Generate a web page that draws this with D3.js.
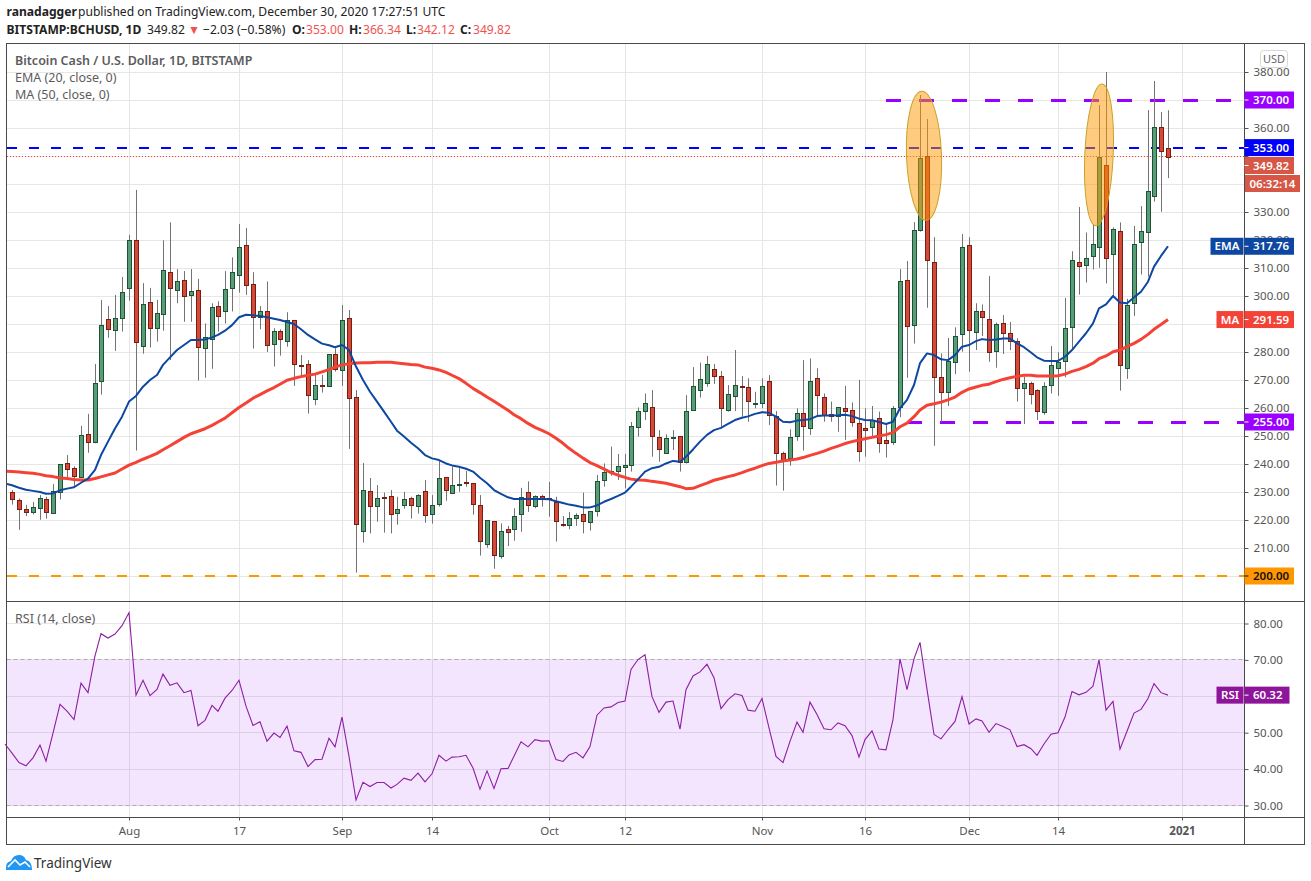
<!DOCTYPE html>
<html>
<head>
<meta charset="utf-8">
<title>BCHUSD</title>
<script src="https://cdn.jsdelivr.net/npm/d3@7"></script>
<style>
    body { margin: 0; background: #fff; }
    text { font-family: "Noto Sans", "Open Sans", sans-serif; }
</style>
</head>
<body>
<div id="chart"></div>
<script>
// Daily candles, first one is 15 Jul 2020, last one 30 Dec 2020
const opens = [229.9,227,223.8,222.7,224.2,227.4,222.4,229.9,240.2,238.5,235.2,250.6,247.6,269.5,291.7,287.7,292,302.7,319.9,282,
    297.7,288.5,293.4,308.5,302,305.6,300.2,302,281.3,284.5,296.3,294.5,302.7,307.4,318.1,304.2,292.4,294.5,282.7,287.4,
    283.8,291.3,275.3,275.6,263.1,268.3,267.7,279.2,273.5,292,263.8,216,230.2,224.9,228.1,228.5,222.4,225.2,227.7,224.9,
    230.2,222,225.6,235.2,229.5,232.7,233.5,233.1,225.2,211.3,219.5,206.9,216.7,216.7,222,229.9,224.9,228.5,228,226.3,
    218.7,218,220.8,222,219,223.1,234,237.3,237.4,238.8,239.5,253.1,258.8,260.2,249.5,243.8,249.5,249.9,240.6,259.2,
    266.3,268.8,273.8,271.3,259.2,264.2,267.7,267.4,261.6,261.7,269.5,257.3,244,242,249.9,258.1,252.7,270.6,263.8,257.7,
    257,259.9,259.2,254.5,252.7,253.1,256.3,248.5,247.6,260.2,305.6,289.5,323.5,350.1,312,270.9,265.8,276.3,286.3,318.1,
    287,294.5,291.7,280.1,290.2,286.7,283.8,267,268.8,266.3,258.3,268.1,274.2,276.7,288.8,312,310.9,314.2,317.7,346.7,
    314.9,323.1,274.2,297.4,319.2,322.7,335.6,360.2,353];
const highs = [230.7,227.7,225.4,226.4,228.9,228.3,232.9,239.9,243.2,239.2,253.6,257.9,275.7,298.6,296.4,300.4,306.8,321.8,337.9,304.6,
    302.9,298.6,319.9,326.3,309.6,308.9,309.6,306.1,290.2,297.4,298.1,308.9,313.8,325.7,324.3,308.5,296.4,305.2,288.5,288.1,
    294.2,291.5,278.9,277.1,271.8,271.8,279.2,281.3,296.8,295,266.4,240.4,235,232.5,229.8,230.7,228.3,230,228.3,229.2,
    234.3,228.9,241.4,235.4,239,238.5,237.5,233.1,228.9,219.9,219.5,218.8,217.9,224.2,231.5,233.8,228.8,229,233.6,228.3,
    221.4,222.9,222.4,229.8,223.1,236.1,240.2,246.2,243.6,243.6,255,260.2,265.2,266.4,252.1,250.6,252.1,250,264.6,274.6,
    276.2,278.6,275.7,273.2,268.2,280.7,271.4,270.6,265.8,270.6,271.8,258.9,244.4,252.4,259.9,277.1,277.7,274.2,265.2,262.3,
    260.2,267.9,262,270,259.9,260.7,258.7,254.5,260.7,309.6,312.5,326.4,371.8,363.2,321,279.5,285,288.8,322.1,321,
    297.4,297,307.1,290.5,293.2,290.7,284.9,271.2,269.4,266.7,269.2,282.1,279.9,299.3,316,331.8,322.7,325.7,368.2,380,
    324.5,326.3,299,325,332.1,366.4,376.8,365.7,366.34];
const lows = [225.5,216.5,221.4,222,220.1,220.5,222.4,227.3,234.3,231.9,234.9,244,247.4,264.8,285.1,280.4,287.3,298.3,244.8,279.4,
    281.6,283.7,287.6,277.1,297.4,290.8,290.8,269.8,270.8,274,287.3,290.2,294.5,301.2,300.4,281.2,288.1,280,274.8,278.7,
    281.9,267.9,271.2,258,261,265.5,267.7,273,267.9,245.4,201.2,211.9,215.2,219.4,215.5,215.2,218.3,224,220.5,222.3,
    219,218.7,224.8,226.9,229.5,230.1,231.9,221.9,207.3,210.1,202.6,206.2,210.7,212.6,215.8,222.9,224.2,224.8,221.2,212.3,
    217.6,216.7,217.9,215.2,216.2,221.2,231.9,235.8,234.3,231.3,237.3,249.8,255.7,242.6,240.8,243.8,245,237.3,240.2,259.2,
    263.7,267.6,268.6,253.3,258.7,258.9,256.9,255.1,259.9,259.9,253.9,232.3,230.5,239.4,248.3,244.8,250.4,257.5,255.1,255.1,
    251.5,248.6,253.3,240.8,242.6,249.8,244,242.3,246.8,256.7,270.8,283,323,295.8,246.5,255.1,260.7,272.1,280.1,273,
    280.7,285.7,276.5,274.4,279.3,280.7,262.3,254.3,261.3,255.7,257.6,265.2,264.4,271,280.7,300.5,304.8,309.5,310.1,304.5,
    300,266.2,270.4,292.9,307.7,306.9,333.7,330.1,342.12];
const closes = [227.4,223.8,222.7,224.5,227.7,222.7,230.2,239.9,238.1,235.5,250.2,247.6,268.8,289.5,288.1,292,301.3,319.9,283.5,297,
    288.5,293.8,309.2,302.7,305.2,299.9,301.7,281.7,285.2,295.9,292.7,302.4,308.5,317.4,303.8,292.4,294.5,282.4,287.4,284.5,
    291.3,275.6,275,264.5,268.1,268.2,279.2,273.8,291.3,263.5,218.5,230.6,224.9,227.7,227.8,222,223.8,227.4,225.2,228.8,
    221.7,225.2,234.9,230.5,232.4,232.9,233.2,225.6,212.4,219.9,207.3,216,215.8,221.3,228.1,225.2,228.5,227.6,227.8,219.5,
    218.4,220.6,221.7,219.4,223.1,233.8,237,237.5,239.2,239.5,253.5,258.8,261.7,249.9,245.2,249.2,249.7,240.6,258.8,267.7,
    270.2,275.6,271.3,259.9,264.9,268.1,267.4,262.4,261.9,267.7,257.4,244,241,249.5,258.1,253.3,269.5,264.5,257.3,256.9,
    260.2,259,254.9,244.5,251.9,255.7,247.4,247.3,259.9,305.2,289.2,323.5,349.2,313.1,270.9,265.6,276.7,285.6,317.4,287.7,
    294.5,292.4,279.9,289.9,286.7,283.8,267,268.8,264.8,258.8,267.7,275.2,276.3,288.5,312.7,310.6,313.5,318.5,349.8,313.5,
    323.8,275.2,296.7,318.5,323.1,337.4,360.2,351.7,349.82];

// Indicators start one day earlier, 14 Jul 2020
const ema20 = [233,232.4,231.5,230.8,230.4,230,229.4,229.5,230.6,231.2,231.7,233.3,234.8,237.9,243.2,248,252.7,256.9,262.3,264.3,
    267.6,270,271.8,275.4,278.1,280.7,282.5,284.3,284.3,284.5,285.2,286.1,287.6,289.6,292.4,293.3,293.1,292.9,292.4,291.9,
    291.4,290.7,290,288.1,286.1,284.5,283,282.4,281.7,282.5,280.7,274.8,270,265.8,262.3,258.7,255.1,251.9,249.8,247.6,
    245.6,243.2,242,241.4,240.2,239.5,239,238.3,237.3,235.1,233.1,230.7,229.3,228.1,227.5,227.5,227.5,227.5,227.5,227.4,
    226.7,226.1,225.5,225.1,224.5,224.5,225.2,226.5,227.5,228.6,229.8,231.9,234.5,237.3,238.5,239,240.2,241.1,240.8,242.6,
    245.2,248,250.4,252.1,252.9,254.3,255.7,256.5,257,257.9,258.5,258.3,256.9,255.1,254.9,255.5,255.7,256,257.1,257.3,
    257.3,257.4,257.6,257.1,256.2,255.7,255.6,255,254.3,255.1,259.9,262.9,268.2,276,279.5,278.9,277.4,277.1,278.9,281.9,
    282.5,283.9,284.6,284.3,284.5,284.8,284.8,283.1,281.7,279.8,278.1,276.9,276.8,276.8,278.3,280.7,283.7,286.7,290.2,295.6,
    297,300,297.7,297.4,299.5,301.5,305.1,310.5,314.3,317.76];
const ma50 = [237.4,237.3,237.1,236.9,236.7,236.3,235.8,235.5,235,234.8,234.5,234.3,234.3,234.8,235.4,236.1,236.8,238.2,239.6,240.6,
    241.7,242.7,243.8,245.1,246.5,248,249.5,250.8,251.7,252.6,253.8,255,256.4,258.3,260.2,261.8,263.5,264.8,266.1,267.3,
    268.5,269.9,270.6,271.2,271.7,272.1,272.9,273.7,274.6,275.4,275.8,276.1,276.2,276.2,276.3,276.3,276.3,276.1,275.8,275.5,
    275.4,274.6,274.2,273.6,272.7,271.7,270.5,268.8,267,265.5,263.9,262.4,260.8,259.2,257.6,256.2,254.5,253.1,252,250.8,
    249.2,247.4,245.6,243.8,242.1,240.5,239.4,238.2,236.9,236,235.2,234.6,234.3,234.2,233.8,233.5,233.1,232.5,231.9,231.2,
    231.3,232.3,233.2,234.2,234.8,235.5,236.1,236.9,237.7,238.5,239.4,240.2,240.6,241.1,241.4,241.8,242.3,243.1,243.8,244.6,
    245.6,246.4,247.3,248,248.6,249,249.5,250,250.5,251.2,253.3,254.6,256.9,259.3,261,261.5,262.1,262.9,263.9,265.6,
    266.8,267.5,268.1,268.5,269.4,270.2,270.8,271.3,271.7,271.7,271.4,271.4,271.4,271.5,272.1,273.1,273.8,274.8,276,277.6,
    278.6,280.1,280.7,281.9,283.1,284.5,286.3,288.1,289.8,291.59];
const rsi14 = [46.9,44.4,41.8,40.9,43.1,46.6,42.2,49.9,57.8,55.9,53.6,63.6,61,71.1,77.2,76,77.1,79.4,83,60.3,
    64.4,60.2,61.9,66.1,63,63.7,61,61.6,51.9,53.4,57.5,55.9,59.5,61.6,64.4,57.3,52,53,47.7,49.9,
    48.7,51.8,45,44.6,40.7,42.6,42.7,48.5,46.1,54.3,43.5,31.5,36.4,35.2,36.3,36.3,34.8,35.8,37.5,36.9,
    38.9,36.5,38.7,43.8,42.2,43.3,43.4,43.8,40.3,34.5,39.5,34.7,40.1,40.2,43.5,47.5,46.1,48.1,47.7,47.8,
    42.6,42.1,43.9,44.6,43.1,46.2,54.8,56.8,57.1,58.3,58.7,67.4,70.1,71.4,59.9,55.6,58.4,58.7,51,61.8,
    65.6,66.7,68.8,65.1,56.6,59.1,60.7,60.2,56.2,55.9,59.4,51.3,43.5,41.8,47.6,52.9,50.1,58.4,55,51.1,
    50.8,52.7,51.9,49.2,43.3,48.1,50.5,45.5,45.3,53.6,70.3,61.8,70.3,74.8,61.9,49.5,48.3,50.8,53.1,59.9,
    52.4,53.8,53.2,50.1,52.5,51.7,50.8,46.2,46.7,45.6,43.8,46.9,49.6,50,54.3,61.3,60.4,61.1,62.8,70,
    56.2,58.6,45.5,50.4,55.4,56.4,59.4,63.5,61,60.32];

// Axis ticks
const priceTicks = d3.range(200, 381, 10);
const hiddenPriceLabels = [200, 290, 340, 350, 370]; // sit under the coloured tags
const rsiTicks = [30, 40, 50, 60, 70, 80];
const hiddenRsiLabels = [60];
const timeTicks = [
    [new Date(Date.UTC(2020, 7, 1)), 'Aug'], [new Date(Date.UTC(2020, 7, 17)), '17'],
    [new Date(Date.UTC(2020, 8, 1)), 'Sep'], [new Date(Date.UTC(2020, 8, 14)), '14'],
    [new Date(Date.UTC(2020, 9, 1)), 'Oct'], [new Date(Date.UTC(2020, 9, 12)), '12'],
    [new Date(Date.UTC(2020, 10, 1)), 'Nov'], [new Date(Date.UTC(2020, 10, 16)), '16'],
    [new Date(Date.UTC(2020, 11, 1)), 'Dec'], [new Date(Date.UTC(2020, 11, 14)), '14'],
    [new Date(Date.UTC(2021, 0, 1)), '2021']
];

// Horizontal levels drawn by the author
const levels = [
    { price: 370, color: '#9900ff', start: new Date(Date.UTC(2020, 10, 19)), width: 3, dash: '15,18', textColor: '#fff' },
    { price: 353, color: '#0000ff', start: null, width: 2, dash: '10,12', textColor: '#fff' },
    { price: 255, color: '#9900ff', start: new Date(Date.UTC(2020, 10, 22)), width: 3, dash: '15,18', textColor: '#fff' },
    { price: 200, color: '#ff9800', start: null, width: 2, dash: '10,12', textColor: '#111' }
];

// Highlight ellipses over the two wicks: centre date and price, tilt
const marks = [
    { date: new Date(Date.UTC(2020, 10, 24, 14)), price: 350.1, rx: 17.5, ry: 64.5, tilt: -2 },
    { date: new Date(Date.UTC(2020, 11, 20)), price: 350.4, rx: 14.2, ry: 71, tilt: 2.5 }
];

const firstCandle = new Date(Date.UTC(2020, 6, 15));
const candles = closes.map((c, i) => ({
    date: d3.utcDay.offset(firstCandle, i),
    open: opens[i], high: highs[i], low: lows[i], close: c
}));
const dayOf = i => d3.utcDay.offset(firstCandle, i - 1);

const left = 6.5, right = 1244.5, outer = 1304.5;
const top1 = 43.5, bottom1 = 601.5, bottom2 = 817.5, outerBottom = 844.5;

const x = d3.scaleUtc()
    .domain([new Date(Date.UTC(2020, 7, 1)), new Date(Date.UTC(2021, 0, 1))])
    .rangeRound([129, 1182]);
const y = d3.scaleLinear().domain([200, 380]).range([576, 72]);
const yRsi = d3.scaleLinear().domain([30, 80]).range([805.5, 623.5]);

const svg = d3.select('#chart')
    .append('svg')
    .attr('width', 1311)
    .attr('height', 881)
    .style('display', 'block');

svg.append('defs').append('clipPath').attr('id', 'main')
    .append('rect')
    .attr('x', left).attr('y', top1)
    .attr('width', right - left).attr('height', bottom1 - top1);

// Grid
const grid = svg.append('g').attr('stroke', '#e6e6e6').attr('stroke-width', 1);
grid.selectAll('.gx').data(timeTicks).enter().append('line')
    .attr('x1', d => x(d[0]) + 0.5).attr('x2', d => x(d[0]) + 0.5)
    .attr('y1', top1).attr('y2', bottom2);
grid.selectAll('.gy').data(priceTicks).enter().append('line')
    .attr('x1', left).attr('x2', right)
    .attr('y1', d => y(d) + 0.5).attr('y2', d => y(d) + 0.5);
grid.selectAll('.gr').data(rsiTicks).enter().append('line')
    .attr('x1', left).attr('x2', right)
    .attr('y1', d => Math.floor(yRsi(d)) + 0.5).attr('y2', d => Math.floor(yRsi(d)) + 0.5);

// RSI band
svg.append('rect')
    .attr('x', left).attr('width', right - left)
    .attr('y', yRsi(70)).attr('height', yRsi(30) - yRsi(70))
    .attr('fill', '#9c27f0').attr('fill-opacity', 0.12);
[70, 30].forEach(v => {
    svg.append('line')
        .attr('x1', left).attr('x2', right)
        .attr('y1', Math.floor(yRsi(v)) + 0.5).attr('y2', Math.floor(yRsi(v)) + 0.5)
        .attr('stroke', '#b3a8ba').attr('stroke-dasharray', '4,3');
});

const plot = svg.append('g').attr('clip-path', 'url(#main)');

// Last price line
plot.append('line')
    .attr('x1', 7).attr('x2', right)
    .attr('y1', Math.floor(y(349.82)) + 0.5).attr('y2', Math.floor(y(349.82)) + 0.5)
    .attr('stroke', '#f44336').attr('stroke-dasharray', '1,2');

// Level lines, snapped so the stroke stays crisp
const levelY = d => Math.round(y(d.price)) + (d.width % 2 ? 0.5 : 0);
plot.selectAll('.level').data(levels).enter().append('line')
    .attr('x1', d => d.start ? x(d.start) : 7)
    .attr('x2', right)
    .attr('y1', levelY).attr('y2', levelY)
    .attr('stroke', d => d.color)
    .attr('stroke-width', d => d.width)
    .attr('stroke-dasharray', d => d.dash);

// Candles
const candle = plot.selectAll('.candle').data(candles).enter().append('g');
candle.append('line')
    .attr('x1', d => x(d.date) + 0.5).attr('x2', d => x(d.date) + 0.5)
    .attr('y1', d => y(d.high)).attr('y2', d => y(d.low))
    .attr('stroke', '#737373');
candle.append('rect')
    .attr('x', d => x(d.date) - 1.5)
    .attr('width', 4)
    .attr('y', d => Math.round(y(Math.max(d.open, d.close))) + 0.5)
    .attr('height', d => Math.max(1, Math.round(Math.abs(y(d.open) - y(d.close)))))
    .attr('fill', d => d.close >= d.open ? '#5b9c78' : '#d24a38')
    .attr('stroke', d => d.close >= d.open ? '#1a5434' : '#7a1c14');

// Moving averages
const lineOf = scale => d3.line().x((d, i) => x(dayOf(i))).y(d => scale(d));
plot.append('path').datum(ma50)
    .attr('d', lineOf(y)).attr('fill', 'none')
    .attr('stroke', '#f44336').attr('stroke-width', 3).attr('stroke-linejoin', 'round');
plot.append('path').datum(ema20)
    .attr('d', lineOf(y)).attr('fill', 'none')
    .attr('stroke', '#0d47a1').attr('stroke-width', 2).attr('stroke-linejoin', 'round');

// Ellipses
plot.selectAll('.mark').data(marks).enter().append('ellipse')
    .attr('cx', 0).attr('cy', 0)
    .attr('rx', d => d.rx).attr('ry', d => d.ry)
    .attr('transform', d => `translate(${x(d.date)},${y(d.price)}) rotate(${d.tilt})`)
    .attr('fill', '#ff9800').attr('fill-opacity', 0.5)
    .attr('stroke', '#c9a227').attr('stroke-width', 1);

// RSI line
svg.append('path').datum(rsi14)
    .attr('d', lineOf(yRsi)).attr('fill', 'none')
    .attr('stroke', '#8e1ea5').attr('stroke-width', 1.1);

// Frame
const frame = svg.append('g').attr('stroke', '#4a4a4a').attr('fill', 'none');
frame.append('rect').attr('x', left).attr('y', top1).attr('width', outer - left).attr('height', outerBottom - top1);
frame.append('line').attr('x1', right).attr('x2', right).attr('y1', top1).attr('y2', outerBottom);
frame.append('line').attr('x1', left).attr('x2', outer).attr('y1', bottom1).attr('y2', bottom1);
frame.append('line').attr('x1', left).attr('x2', outer).attr('y1', bottom2).attr('y2', bottom2);

// Axes
function styleAxis(g) {
    g.select('.domain').remove();
    g.selectAll('line').attr('stroke', '#555');
    g.selectAll('text').attr('fill', '#555').style('font-size', '11.5px').style('font-family', '"Noto Sans"');
}
svg.append('g').attr('transform', `translate(${right},0)`)
    .call(d3.axisRight(y).tickValues(priceTicks).tickSize(4).tickPadding(5)
        .tickFormat(d => hiddenPriceLabels.includes(d) ? '' : d3.format('.2f')(d)))
    .call(styleAxis);
svg.append('g').attr('transform', `translate(${right},0)`)
    .call(d3.axisRight(yRsi).tickValues(rsiTicks).tickSize(4).tickPadding(5)
        .tickFormat(d => hiddenRsiLabels.includes(d) ? '' : d3.format('.2f')(d)))
    .call(styleAxis);
svg.append('g').attr('transform', `translate(0,${bottom2})`)
    .call(d3.axisBottom(x).tickValues(timeTicks.map(d => d[0])).tickSize(3).tickPadding(6)
        .tickFormat((d, i) => timeTicks[i][1]))
    .call(styleAxis)
    .call(g => g.selectAll('text').filter(d => d.getUTCFullYear() === 2021)
        .style('font-weight', 'bold'));

// USD button
svg.append('rect')
    .attr('x', 1260.5).attr('y', 50.5).attr('width', 27).attr('height', 17).attr('rx', 3)
    .attr('fill', '#fff').attr('stroke', '#d8d8dc');
svg.append('text').attr('x', 1274).attr('y', 62.5).attr('text-anchor', 'middle')
    .attr('fill', '#666').style('font-size', '11px').text('USD');

// Price labels on the axis
function tag(yc, value, color, textColor, opts) {
    const o = opts || {};
    const w = o.width || 49.5;
    svg.append('rect')
        .attr('x', right).attr('y', yc - 8.5).attr('width', w).attr('height', 17).attr('fill', color);
    svg.append('line')
        .attr('x1', right).attr('x2', right + 4).attr('y1', yc).attr('y2', yc)
        .attr('stroke', textColor);
    svg.append('text')
        .attr('x', right + (o.pad || 8.5)).attr('y', yc + 4.2)
        .attr('fill', textColor).style('font-size', '11.5px').style('font-weight', 600)
        .text(value);
    if (o.name) {
        svg.append('rect')
            .attr('x', right - o.nameWidth - 1).attr('y', yc - 8.5)
            .attr('width', o.nameWidth).attr('height', 17).attr('fill', color);
        svg.append('text')
            .attr('x', right - 1 - o.nameWidth / 2).attr('y', yc + 4.2).attr('text-anchor', 'middle')
            .attr('fill', '#fff').style('font-size', '11.5px').style('font-weight', 600)
            .text(o.name);
    }
}
levels.forEach(d => tag(y(d.price), d3.format('.2f')(d.price), d.color, d.textColor));
tag(y(349.82) + 9, '349.82', '#d65745', '#fff');
svg.append('rect').attr('x', right + 0.5).attr('y', 175).attr('width', 55).attr('height', 17).attr('fill', '#d65745');
svg.append('text').attr('x', right + 5).attr('y', 187.5).attr('fill', '#fff')
    .style('font-size', '11.5px').style('font-weight', 600).text('06:32:14');
tag(y(317.76), '317.76', '#0d47a1', '#fff', { name: 'EMA', nameWidth: 33 });
tag(y(291.59), '291.59', '#f44336', '#fff', { name: 'MA', nameWidth: 27 });
tag(yRsi(60.32), '60.32', '#8e1599', '#fff', { name: 'RSI', nameWidth: 27, width: 45 });

// Pane legends
const legend = [
    ['Bitcoin Cash / U.S. Dollar, 1D, BITSTAMP', 65, 600],
    ['EMA (20, close, 0)', 82, 400],
    ['MA (50, close, 0)', 99, 400],
    ['RSI (14, close)', 623, 400]
];
svg.selectAll('.legend').data(legend).enter().append('text')
    .attr('x', 15).attr('y', d => d[1])
    .attr('fill', '#5c5c5c')
    .style('font-size', '12.5px')
    .style('font-weight', d => d[2])
    .text(d => d[0]);

// Header
const header = [
    ['ranadagger', 6.5, 16, 700, '#222'],
    ['published on TradingView.com, December 30, 2020 17:27:51 UTC', 78, 16, 400, '#222'],
    ['BITSTAMP:BCHUSD, 1D', 6.5, 34, 700, '#222'],
    ['349.82', 147, 34, 400, '#222'],
    ['▼', 188, 34, 400, '#ef5350'],
    ['−2.03 (−0.58%)', 203, 34, 400, '#222'],
    ['O:', 292, 34, 700, '#222'],
    ['353.00', 306, 34, 400, '#ef5350'],
    ['H:', 349, 34, 700, '#222'],
    ['366.34', 363, 34, 400, '#ef5350'],
    ['L:', 406, 34, 700, '#222'],
    ['342.12', 417, 34, 400, '#ef5350'],
    ['C:', 460, 34, 700, '#222'],
    ['349.82', 473, 34, 400, '#ef5350']
];
svg.selectAll('.head').data(header).enter().append('text')
    .attr('x', d => d[1]).attr('y', d => d[2])
    .attr('fill', d => d[4])
    .style('font-size', '12.1px')
    .style('font-weight', d => d[3])
    .text(d => d[0]);

// TradingView logo
const logo = svg.append('g');
logo.append('path')
    .attr('d', 'M6 870 Q5 862 11 861 Q13 855 19 855 Q24 855 26 860 Q32 861 32 870 Z')
    .attr('fill', '#2196f3');
logo.append('path')
    .attr('d', 'M8 867 L15 860 L20 865 L25 862 L30 867')
    .attr('fill', 'none').attr('stroke', '#fff').attr('stroke-width', 1.6);
svg.append('text').attr('x', 34).attr('y', 868)
    .attr('fill', '#333').style('font-size', '13.5px').text('TradingView');
</script>
</body>
</html>
